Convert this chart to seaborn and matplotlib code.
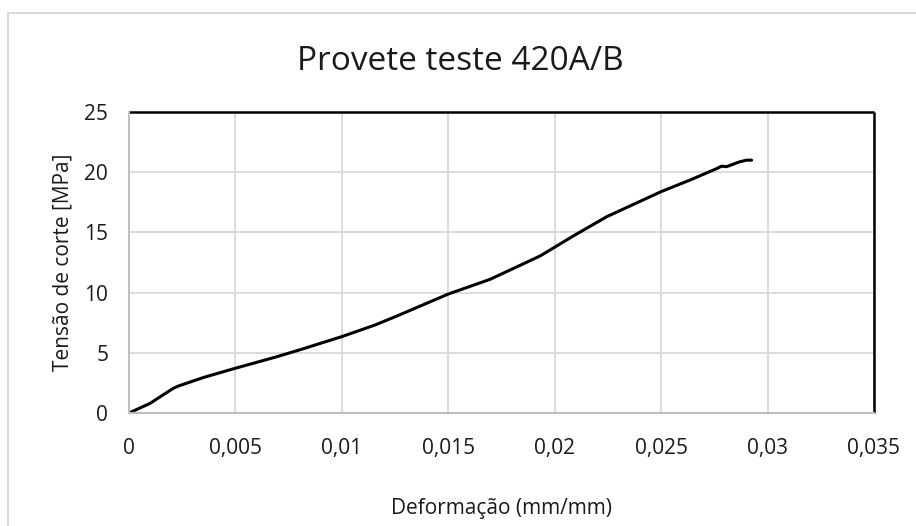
import matplotlib
matplotlib.use("Agg")
import matplotlib.pyplot as plt
from matplotlib.patches import Rectangle
from matplotlib.ticker import FuncFormatter, MultipleLocator
import seaborn as sns
import pandas as pd

# Shear test curve: strain (mm/mm) vs shear stress (MPa)
deformacao = [0.0, 0.00099, 0.00208, 0.00232, 0.00350, 0.00498, 0.00686, 0.0081,
              0.00999, 0.01156, 0.01258, 0.0150, 0.01696, 0.01884, 0.01931,
              0.02087, 0.02244, 0.02499, 0.02636, 0.02761, 0.02784, 0.02807,
              0.0287, 0.02901, 0.02925]
tensao = [0.0, 0.80, 2.05, 2.24, 2.95, 3.71, 4.63, 5.29,
          6.34, 7.31, 8.05, 9.88, 11.1, 12.65, 13.04,
          14.7, 16.3, 18.38, 19.35, 20.3, 20.5, 20.46,
          20.87, 21.0, 21.0]

titulo = "Provete teste 420A/B"
rotulo_x = "Deformação (mm/mm)"
rotulo_y = "Tensão de corte [MPa]"

df = pd.DataFrame({"x": deformacao, "y": tensao})

sns.set_style("white")
plt.rcParams["font.family"] = ["Open Sans", "DejaVu Sans"]

fig = plt.figure(figsize=(9.16, 5.26), dpi=100)
ax = fig.add_axes([129 / 916, 1 - 413 / 526, (874 - 129) / 916, (413 - 112) / 526])

# chart border
fig.patches.append(Rectangle((8 / 916, -0.01), 1.0, 1 - 13 / 526 + 0.01,
                             transform=fig.transFigure, fill=False,
                             edgecolor="#d9d9d9", linewidth=1.5))

sns.lineplot(data=df, x="x", y="y", ax=ax, sort=False, estimator=None,
             color="black", linewidth=2.2)

ax.set_xlim(0, 0.035)
ax.set_ylim(0, 25)
ax.xaxis.set_major_locator(MultipleLocator(0.005))
ax.yaxis.set_major_locator(MultipleLocator(5))
fmt = FuncFormatter(lambda v, p: f"{round(v, 4):g}".replace(".", ","))
ax.xaxis.set_major_formatter(fmt)
ax.yaxis.set_major_formatter(fmt)

ax.grid(True, color="#d9d9d9", linewidth=1.3)
ax.set_axisbelow(True)
for side in ("top", "right"):
    ax.spines[side].set_color("black")
    ax.spines[side].set_linewidth(1.8)
    ax.spines[side].set_capstyle("butt")
for side in ("left", "bottom"):
    ax.spines[side].set_color("#bfbfbf")
    ax.spines[side].set_linewidth(1.5)
    ax.spines[side].set_zorder(3)

ax.tick_params(axis="x", length=0, pad=18, labelsize=15, labelcolor="#1a1a1a")
ax.tick_params(axis="y", length=0, pad=15, labelsize=15, labelcolor="#1a1a1a")

ax.set_xlabel(rotulo_x, fontsize=15, color="#1a1a1a", labelpad=28)
ax.set_ylabel(rotulo_y, fontsize=15, color="#1a1a1a", labelpad=8)
fig.text(460 / 916, 1 - 62 / 526, titulo, ha="center", va="center",
         fontsize=24, color="#1a1a1a")

fig.savefig("out.png", dpi=100)
